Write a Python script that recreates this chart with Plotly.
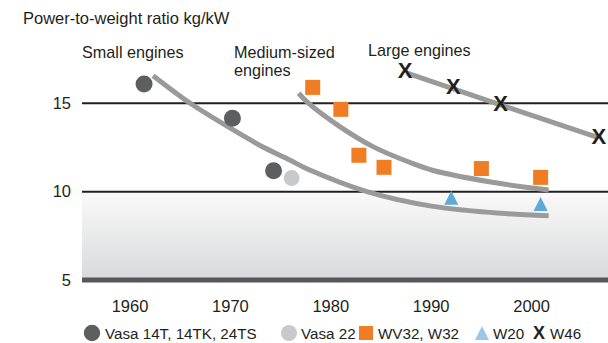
import base64
import plotly.graph_objects as go

# ---------------------------------------------------------------- data
vasa14_year = [1961.4, 1970.2, 1974.3]
vasa14_ratio = [16.09, 14.15, 11.19]

vasa22_year = [1976.1]
vasa22_ratio = [10.77]

w32_year = [1978.2, 1981.0, 1982.8, 1985.3, 1995.0, 2000.9]
w32_ratio = [15.90, 14.66, 12.06, 11.38, 11.31, 10.81]

w20_year = [1992.0, 2000.9]
w20_ratio = [9.66, 9.30]

w46_year = [1987.4, 1992.2, 1996.9, 2006.7]
w46_ratio = [16.75, 15.81, 14.90, 13.02]

# trend curves for each engine class
small_trend_year = [1962.3, 1966.0, 1970.0, 1973.3, 1975.9, 1977.9, 1983.6, 1990.2, 1996.9, 2001.7]
small_trend_ratio = [16.56, 15.00, 13.59, 12.51, 11.79, 11.23, 10.01, 9.17, 8.78, 8.64]

medium_trend_year = [1976.8, 1977.6, 1980.9, 1984.2, 1987.9, 1990.2, 1996.9, 2001.7]
medium_trend_ratio = [15.57, 15.09, 13.68, 12.55, 11.65, 11.20, 10.46, 10.10]

large_trend_year = [1987.6, 1996.9, 2006.5]
large_trend_ratio = [16.71, 14.91, 13.09]

year_ticks = [1960, 1970, 1980, 1990, 2000]
ratio_ticks = [5, 10, 15]
band_low, band_high = 5, 10

# ---------------------------------------------------------------- style
W, H = 608, 343
ML, MR, MT, MB = 82, 0, 30, 59
PW, PH = W - ML - MR, H - MT - MB
X_RANGE = [1955.22, 2007.61]
Y_RANGE = [4.78, 19.146]

FONT = "Liberation Sans, Arial, sans-serif"
TXT = "#231f20"
C_DARK = "#5d5e60"
C_LIGHT = "#c8c9cb"
C_ORANGE = "#f07d23"
C_BLUE = "#5fa9d7"
C_BLUE_KEY = "#9cc8e8"
C_TREND = "#9a9a9a"


def px_x(px):
    return (px - ML) / PW


def px_y(py):
    return (MT + PH - py) / PH


fig = go.Figure()

for xs, ys in [(small_trend_year, small_trend_ratio),
               (medium_trend_year, medium_trend_ratio),
               (large_trend_year, large_trend_ratio)]:
    fig.add_trace(go.Scatter(x=xs, y=ys, mode="lines",
                             line=dict(color=C_TREND, width=5, shape="spline", smoothing=0.9),
                             hoverinfo="skip", showlegend=False))

fig.add_trace(go.Scatter(x=vasa14_year, y=vasa14_ratio, mode="markers", name="Vasa 14T, 14TK, 24TS",
                         marker=dict(symbol="circle", size=17, color=C_DARK, line_width=0),
                         showlegend=False, cliponaxis=False))
fig.add_trace(go.Scatter(x=vasa22_year, y=vasa22_ratio, mode="markers", name="Vasa 22",
                         marker=dict(symbol="circle", size=16, color=C_LIGHT, line_width=0),
                         showlegend=False, cliponaxis=False))
fig.add_trace(go.Scatter(x=w32_year, y=w32_ratio, mode="markers", name="WV32, W32",
                         marker=dict(symbol="square", size=15, color=C_ORANGE, line_width=0),
                         showlegend=False, cliponaxis=False))
# upward triangle with equal width and height, centred on the point
fig.add_trace(go.Scatter(x=w20_year, y=w20_ratio, mode="markers", name="W20",
                         marker=dict(symbol="arrow-down", angle=180, standoff=7, size=14,
                                     color=C_BLUE, line_width=0),
                         showlegend=False, cliponaxis=False))
fig.add_trace(go.Scatter(x=w46_year, y=w46_ratio, mode="text", name="W46",
                         text=["X"] * len(w46_year), textposition="middle center",
                         textfont=dict(family=FONT, size=22, color=TXT, weight="bold"),
                         showlegend=False, cliponaxis=False))

# shaded band between 5 and 10
svg = ("<svg xmlns='http://www.w3.org/2000/svg' width='10' height='100' viewBox='0 0 10 100' "
       "preserveAspectRatio='none'><defs><linearGradient id='g' x1='0' y1='0' x2='0' y2='1'>"
       "<stop offset='0' stop-color='#fafafa'/><stop offset='1' stop-color='#d8d9db'/>"
       "</linearGradient></defs><rect width='10' height='100' fill='url(#g)'/></svg>")
fig.add_layout_image(dict(source="data:image/svg+xml;base64," + base64.b64encode(svg.encode()).decode(),
                          xref="paper", yref="y", x=0, y=band_high, sizex=1, sizey=band_high - band_low,
                          xanchor="left", yanchor="top", sizing="stretch", layer="below"))

shapes = []
for v in ratio_ticks:
    thick = v == band_low
    shapes.append(dict(type="line", xref="paper", yref="y", x0=0, x1=1, y0=v, y1=v,
                       line=dict(color="#58585a" if thick else TXT, width=5 if thick else 2),
                       layer="between"))

# legend key
KEY_Y = px_y(333)
shapes.append(dict(type="circle", xref="paper", yref="paper", xsizemode="pixel", ysizemode="pixel",
                   xanchor=px_x(92), yanchor=KEY_Y, x0=-8.2, x1=8.2, y0=-8.2, y1=8.2,
                   fillcolor=C_DARK, line_width=0))
shapes.append(dict(type="circle", xref="paper", yref="paper", xsizemode="pixel", ysizemode="pixel",
                   xanchor=px_x(289), yanchor=KEY_Y, x0=-8, x1=8, y0=-8, y1=8,
                   fillcolor=C_LIGHT, line_width=0))
shapes.append(dict(type="rect", xref="paper", yref="paper", xsizemode="pixel", ysizemode="pixel",
                   xanchor=px_x(366), yanchor=KEY_Y, x0=-7, x1=7, y0=-7, y1=7,
                   fillcolor=C_ORANGE, line_width=0))
shapes.append(dict(type="path", xref="paper", yref="paper", xsizemode="pixel", ysizemode="pixel",
                   xanchor=px_x(482), yanchor=KEY_Y, path="M-7,-7 L7,-7 L0,7 Z",
                   fillcolor=C_BLUE_KEY, line_width=0))

annotations = []


def label(text, left, cy, size=16.5, anchor="left"):
    annotations.append(dict(text=text, xref="paper", yref="paper", x=px_x(left), y=px_y(cy),
                            xanchor=anchor, yanchor="middle", showarrow=False,
                            font=dict(family=FONT, size=size, color=TXT)))


label("Power-to-weight ratio kg/kW", 21, 18)
label("Small engines", 80, 52, size=16.2)
label("Medium-sized", 232, 52, size=16.2)
label("engines", 232, 70, size=16.2)
label("Large engines", 366, 50, size=16.2)

label("Vasa 14T, 14TK, 24TS", 102.5, 333, size=15.2)
label("Vasa 22", 299, 333, size=15.2)
label("WV32, W32", 376, 333, size=15.2)
label("W20", 491, 333, size=15.2)
label("<b>X</b>", 539, 333, size=18, anchor="center")
label("W46", 548, 333, size=15.2)

fig.update_layout(
    width=W, height=H,
    margin=dict(l=ML, r=MR, t=MT, b=MB, pad=0),
    paper_bgcolor="white", plot_bgcolor="white",
    font=dict(family=FONT, size=16.5, color=TXT),
    shapes=shapes, annotations=annotations,
    showlegend=False,
    xaxis=dict(range=X_RANGE, tickvals=year_ticks, ticks="", showgrid=False, zeroline=False,
               showline=False, ticklabelstandoff=10, fixedrange=True),
    yaxis=dict(range=Y_RANGE, tickvals=ratio_ticks, ticks="", showgrid=False, zeroline=False,
               showline=False, ticklabelstandoff=10, fixedrange=True),
)

fig.write_html("out.html")
